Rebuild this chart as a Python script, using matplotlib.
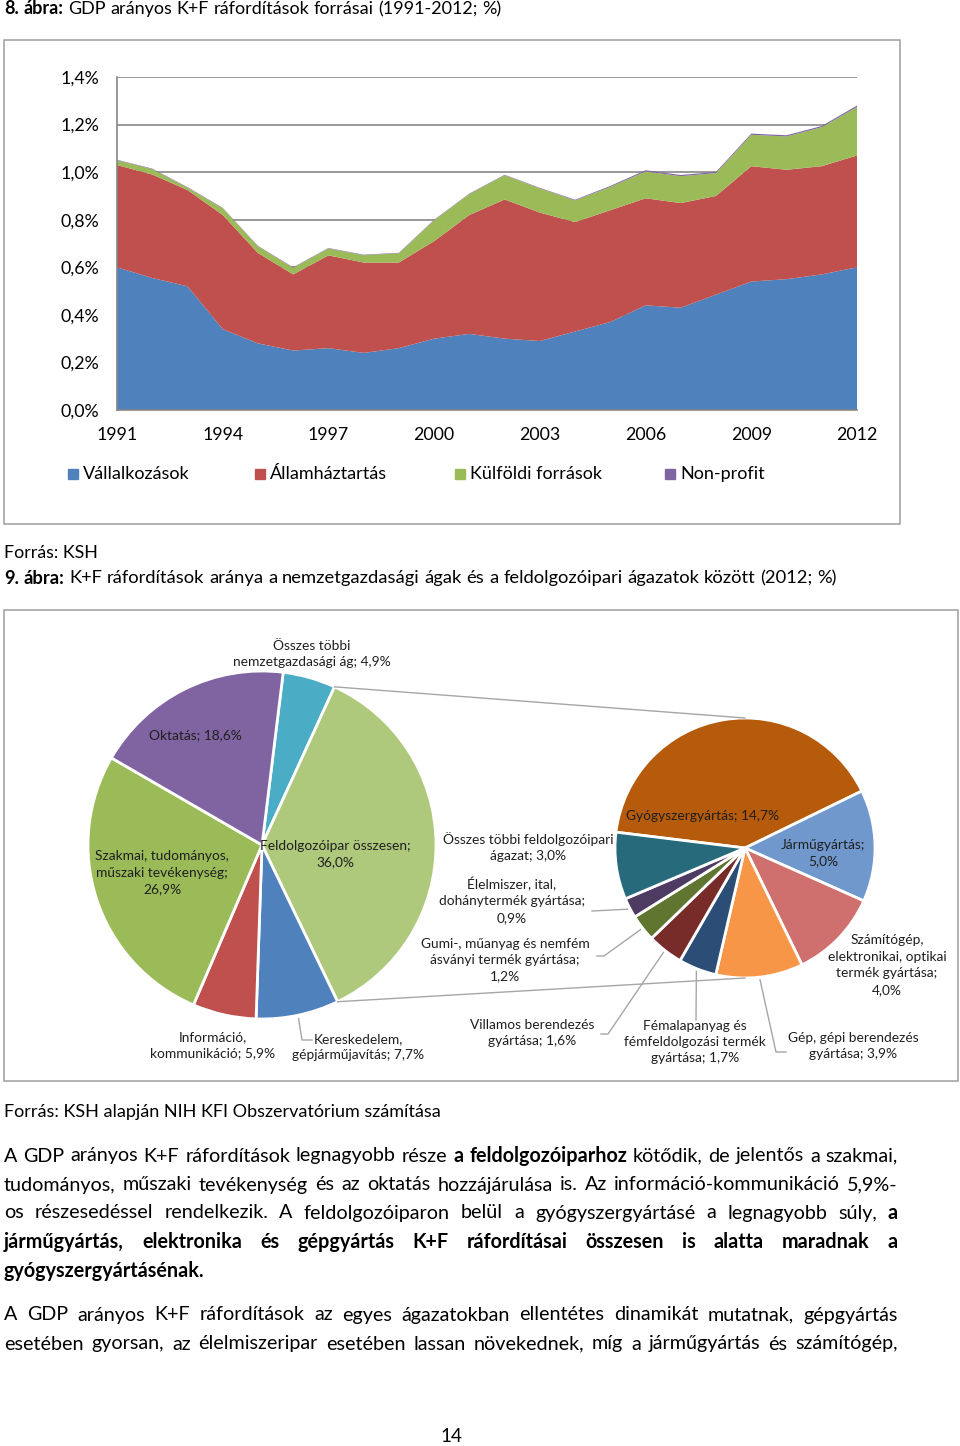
import matplotlib
matplotlib.use('Agg')
import matplotlib.pyplot as plt
from matplotlib.patches import Rectangle
import numpy as np

plt.rcParams['font.family'] = ['Lato', 'DejaVu Sans']

# --- 8. abra: GDP aranyos K+F forrasai (%)
years = list(range(1991, 2013))
vallalkozasok = [0.60, 0.555, 0.52, 0.34, 0.28, 0.25, 0.26, 0.24, 0.26, 0.30, 0.32,
                 0.30, 0.29, 0.33, 0.37, 0.44, 0.43, 0.485, 0.54, 0.55, 0.57, 0.60]
allamhaztartas = [0.43, 0.435, 0.405, 0.48, 0.38, 0.32, 0.39, 0.38, 0.36, 0.41, 0.50,
                  0.585, 0.54, 0.46, 0.47, 0.45, 0.44, 0.415, 0.485, 0.46, 0.455, 0.47]
kulfoldi = [0.02, 0.023, 0.01, 0.028, 0.028, 0.028, 0.029, 0.031, 0.039, 0.088, 0.088,
            0.102, 0.102, 0.091, 0.098, 0.113, 0.113, 0.096, 0.132, 0.14, 0.164, 0.204]
nonprofit = [0.002, 0.002, 0.002, 0.002, 0.002, 0.002, 0.002, 0.002, 0.002, 0.002, 0.002,
             0.002, 0.002, 0.003, 0.004, 0.005, 0.005, 0.005, 0.005, 0.005, 0.005, 0.006]
series_names = ['Vállalkozások', 'Államháztartás', 'Külföldi források', 'Non-profit']
series_colors = ['#4F81BD', '#C0504D', '#9BBB59', '#8064A2']
y_ticks = [0.0, 0.2, 0.4, 0.6, 0.8, 1.0, 1.2, 1.4]
x_tick_years = [1991, 1994, 1997, 2000, 2003, 2006, 2009, 2012]

# --- 9. abra: nemzetgazdasagi agak (%)
branch_labels = ['Összes többi\nnemzetgazdasági ág; 4,9%', 'Feldolgozóipar összesen;\n36,0%',
                 'Kereskedelem,\ngépjárműjavítás; 7,7%', 'Információ,\nkommunikáció; 5,9%',
                 'Szakmai, tudományos,\nműszaki tevékenység;\n26,9%', 'Oktatás; 18,6%']
branch_values = [4.9, 36.0, 7.7, 5.9, 26.9, 18.6]
branch_colors = ['#4BACC6', '#AFC97C', '#4F81BD', '#C0504D', '#9BBB59', '#8064A2']

# feldolgozoipari agazatok (%)
manuf_labels = ['Gyógyszergyártás; 14,7%', 'Járműgyártás;\n5,0%',
                'Számítógép,\nelektronikai, optikai\ntermék gyártása;\n4,0%',
                'Gép, gépi berendezés\ngyártása; 3,9%',
                'Fémalapanyag és\nfémfeldolgozási termék\ngyártása; 1,7%',
                'Villamos berendezés\ngyártása; 1,6%',
                'Gumi-, műanyag és nemfém\násványi termék gyártása;\n1,2%',
                'Élelmiszer, ital,\ndohánytermék gyártása;\n0,9%',
                'Összes többi feldolgozóipari\nágazat; 3,0%']
manuf_values = [14.7, 5.0, 4.0, 3.9, 1.7, 1.6, 1.2, 0.9, 3.0]
manuf_colors = ['#B65A0B', '#7098CD', '#D0706E', '#F79646', '#2C4D75',
                '#772C2A', '#5F7530', '#4D3B62', '#276A7C']

W, H = 960, 1446
fig = plt.figure(figsize=(W / 100, H / 100), dpi=100)
page = fig.add_axes([0, 0, 1, 1])
page.set_xlim(0, W)
page.set_ylim(H, 0)
page.axis('off')
page.set_zorder(10)


def box(x0, y0, x1, y1):
    return [x0 / W, 1 - y1 / H, (x1 - x0) / W, (y1 - y0) / H]


def pct(v):
    return f'{v:.1f}'.replace('.', ',') + '%'


renderer = fig.canvas.get_renderer()


def text_width(s, size, bold):
    t = page.text(0, 0, s, fontsize=size, fontweight='bold' if bold else 'normal')
    w = t.get_window_extent(renderer).width
    t.remove()
    return w


def draw_line(y, tokens, size, justify=False, x0=4, x1=898):
    words = []
    for txt, bold in tokens:
        for w in txt.split():
            words.append((w, bold))
    widths = [text_width(w, size, b) for w, b in words]
    space = text_width('a a', size, False) - text_width('aa', size, False)
    if justify and len(words) > 1:
        gap = (x1 - x0 - sum(widths)) / (len(words) - 1)
    else:
        gap = space
    x = x0
    for (w, b), wd in zip(words, widths):
        page.text(x, y, w, fontsize=size, fontweight='bold' if b else 'normal',
                  va='center', ha='left', color='black')
        x += wd + gap


# ---------------- chart 8 ----------------
draw_line(9, [('8. ábra:', True), ('GDP arányos K+F ráfordítások forrásai (1991-2012; %)', False)], 13)
page.add_patch(Rectangle((4, 40), 896, 484, fill=False, ec='#A6A6A6', lw=1.2))

ax = fig.add_axes(box(117, 77, 857, 410))
ax.stackplot(years, vallalkozasok, allamhaztartas, kulfoldi, nonprofit,
             colors=series_colors, lw=0)
ax.set_xlim(1991, 2012)
ax.set_ylim(0, 1.4)
ax.set_yticks(y_ticks)
ax.set_yticklabels([pct(v) for v in y_ticks])
ax.set_xticks(x_tick_years)
ax.set_xticklabels([str(y) for y in x_tick_years])
ax.set_axisbelow(True)
ax.yaxis.grid(True, color='#868686', lw=1.2)
for s in ['top', 'right']:
    ax.spines[s].set_visible(False)
for s in ['left', 'bottom']:
    ax.spines[s].set_color('#868686')
    ax.spines[s].set_linewidth(1.2)
ax.tick_params(axis='y', length=0, pad=13, labelsize=12.8)
ax.tick_params(axis='x', length=0, pad=12, labelsize=12.8)
ax.patch.set_alpha(0)

legend_x = [68, 255, 455, 665]
for name, col, lx in zip(series_names, series_colors, legend_x):
    page.add_patch(Rectangle((lx, 469), 10, 10, color=col))
    page.text(lx + 15, 474, name, fontsize=13, va='center', ha='left')

page.text(4, 553, 'Forrás: KSH', fontsize=12.8, va='center', ha='left')

# ---------------- chart 9 ----------------
draw_line(578, [('9. ábra:', True),
                ('K+F ráfordítások aránya a nemzetgazdasági ágak és a feldolgozóipari ágazatok között (2012; %)', False)], 13.2)
page.add_patch(Rectangle((4, 610), 954, 471, fill=False, ec='#A6A6A6', lw=1.2))

lc, lr = (262, 845), 174
rc, rr = (745, 848), 130
m = 1.1
axl = fig.add_axes(box(lc[0] - lr * m, lc[1] - lr * m, lc[0] + lr * m, lc[1] + lr * m))
wl, _ = axl.pie(branch_values, colors=branch_colors, startangle=83, counterclock=False,
                radius=1, wedgeprops=dict(edgecolor='white', linewidth=2))
axl.set_xlim(-m, m)
axl.set_ylim(-m, m)
axl.axis('off')

axr = fig.add_axes(box(rc[0] - rr * m, rc[1] - rr * m, rc[0] + rr * m, rc[1] + rr * m))
wr, _ = axr.pie(manuf_values, colors=manuf_colors, startangle=173, counterclock=False,
                radius=1, wedgeprops=dict(edgecolor='white', linewidth=2))
axr.set_xlim(-m, m)
axr.set_ylim(-m, m)
axr.axis('off')

fig.canvas.draw()


def to_page(axp, ang_deg, r=1.0):
    a = np.deg2rad(ang_deg)
    px, py = axp.transData.transform((r * np.cos(a), r * np.sin(a)))
    return px, H - py


# connector lines between the pies
feld = wl[1]
p_top = to_page(axl, feld.theta2)
p_bot = to_page(axl, feld.theta1)
q_top = to_page(axr, 90)
q_bot = to_page(axr, -90)
page.plot([p_top[0], q_top[0]], [p_top[1], q_top[1]], color='#A6A6A6', lw=1)
page.plot([p_bot[0], q_bot[0]], [p_bot[1], q_bot[1]], color='#A6A6A6', lw=1)

lab_kw = dict(fontsize=9.9, ha='center', va='center', color='#1F1F1F', linespacing=1.45)

# left pie labels
left_pos = [(312, 654), (335, 854), (358, 1047), (213, 1045), (162, 873), (195, 735)]
for lab, pos in zip(branch_labels, left_pos):
    page.text(pos[0], pos[1], lab, **lab_kw)

# right pie labels
right_pos = [(703, 816), (823, 853), (887, 965), (853, 1046), (695, 1042),
             (532, 1033), (505, 960), (512, 900), (528, 847)]
for lab, pos in zip(manuf_labels, right_pos):
    page.text(pos[0], pos[1], lab, **lab_kw)


def mid(w):
    return (w.theta1 + w.theta2) / 2


# leader lines: wedge edge -> label
leaders = [
    (axl, wl[2], [(302, 1040), (312, 1040)]),
    (axr, wr[7], [(592, 911)]),
    (axr, wr[6], [(604, 956), (597, 956)]),
    (axr, wr[5], [(608, 1034), (601, 1034)]),
    (axr, wr[4], [(696, 1020)]),
    (axr, wr[3], [(776, 1052), (786, 1052)]),
]
for axp, w, pts in leaders:
    start = to_page(axp, mid(w), 1.02)
    xs = [start[0]] + [p[0] for p in pts]
    ys = [start[1]] + [p[1] for p in pts]
    page.plot(xs, ys, color='#A6A6A6', lw=1)

page.text(4, 1112, 'Forrás: KSH alapján NIH KFI Obszervatórium számítása', fontsize=13,
          va='center', ha='left')

# ---------------- body text ----------------
bs = 14.2
draw_line(1156, [('A GDP arányos K+F ráfordítások legnagyobb része', False), ('a feldolgozóiparhoz', True),
                 ('kötődik, de jelentős a szakmai,', False)], bs, True)
draw_line(1185, [('tudományos, műszaki tevékenység és az oktatás hozzájárulása is. Az információ-kommunikáció 5,9%-', False)], bs, True)
draw_line(1213, [('os részesedéssel rendelkezik. A feldolgozóiparon belül a gyógyszergyártásé a legnagyobb súly,', False),
                 ('a', True)], bs, True)
draw_line(1242, [('járműgyártás, elektronika és gépgyártás K+F ráfordításai összesen is alatta maradnak a', True)], bs, True)
draw_line(1271, [('gyógyszergyártásénak.', True)], bs, False)
draw_line(1315, [('A GDP arányos K+F ráfordítások az egyes ágazatokban ellentétes dinamikát mutatnak, gépgyártás', False)], bs, True)
draw_line(1344, [('esetében gyorsan, az élelmiszeripar esetében lassan növekednek, míg a járműgyártás és számítógép,', False)], bs, True)

page.text(451, 1436, '14', fontsize=13.5, ha='center', va='center')

fig.savefig('out.png', dpi=100)
